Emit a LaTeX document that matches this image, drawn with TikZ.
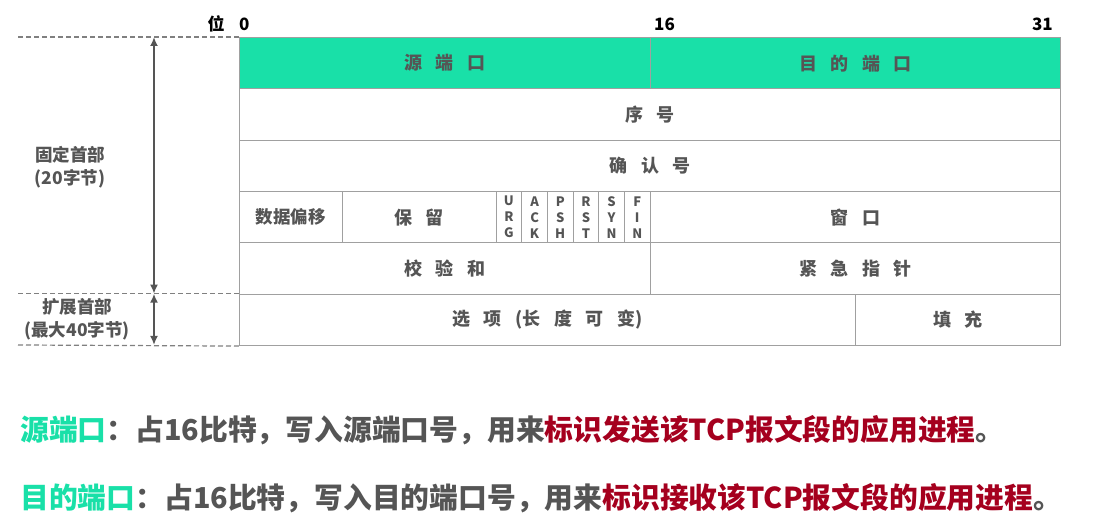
\documentclass[tikz,border=0pt]{standalone}
\usepackage{fontspec}
\setmainfont{Noto Sans CJK SC}
\usetikzlibrary{arrows.meta}
\definecolor{tgreen}{HTML}{19E0A8}
\definecolor{tgray}{HTML}{555555}
\definecolor{tline}{HTML}{A0A0A0}
\definecolor{tred}{HTML}{A5001E}
\definecolor{tdash}{HTML}{808080}
\newcommand{\gp}{\hspace{0.75em}}
\tikzset{
  cell/.style={draw=tline, line width=1.1pt, anchor=north west, inner sep=0pt,
    minimum height=51.33pt, text=tgray, font=\fontsize{18}{20}\selectfont\bfseries},
  flag/.style={cell, font=\fontsize{13}{16}\selectfont\bfseries, align=center},
  hdr/.style={font=\fontsize{17}{19}\selectfont\bfseries, text=black, inner sep=0pt},
  side/.style={font=\fontsize{17.5}{23}\selectfont\bfseries, text=tgray, align=center, inner sep=0pt},
  dashln/.style={draw=tdash, line width=1.2pt, dash pattern=on 5pt off 3pt},
  sizearrow/.style={draw=tgray, line width=2.3pt, {Latex[length=9pt,width=8pt]}-{Latex[length=9pt,width=8pt]}},
  desc/.style={anchor=west, inner sep=0pt, font=\fontsize{28.8}{30}\selectfont\bfseries, text=tgray}
}
\begin{document}
\begin{tikzpicture}[x=1pt,y=-1pt]
\useasboundingbox (0,0) rectangle (1104,529);
\pgfmathsetmacro{\bw}{821/32}
\pgfmathsetmacro{\rh}{51.33}
% header
\node[hdr] (wei) at (216,24) {位};
\node[hdr, anchor=west] (b0) at (239,24) {0};
\node[hdr, anchor=west] (b16) at (654,24) {16};
\node[hdr, anchor=east] (b31) at (1053,24) {31};
% row 1
\node[cell, fill=tgreen, minimum width=16*\bw] (src) at (239,37) {源\gp 端\gp 口};
\node[cell, fill=tgreen, minimum width=16*\bw] (dst) at (239+16*\bw,37) {目\gp 的\gp 端\gp 口};
% row 2
\node[cell, minimum width=32*\bw] (seq) at (239,37+\rh) {序\gp 号};
% row 3
\node[cell, minimum width=32*\bw] (ack) at (239,37+2*\rh) {确\gp 认\gp 号};
% row 4
\node[cell, minimum width=4*\bw, font=\fontsize{17.5}{19}\selectfont\bfseries] (off) at (239,37+3*\rh) {数据偏移};
\node[cell, minimum width=6*\bw] (res) at (239+4*\bw,37+3*\rh) {保\gp 留};
\node[flag, minimum width=\bw] (urg) at (239+10*\bw,37+3*\rh) {U\\R\\G};
\node[flag, minimum width=\bw] (ackf) at (239+11*\bw,37+3*\rh) {A\\C\\K};
\node[flag, minimum width=\bw] (psh) at (239+12*\bw,37+3*\rh) {P\\S\\H};
\node[flag, minimum width=\bw] (rst) at (239+13*\bw,37+3*\rh) {R\\S\\T};
\node[flag, minimum width=\bw] (syn) at (239+14*\bw,37+3*\rh) {S\\Y\\N};
\node[flag, minimum width=\bw] (fin) at (239+15*\bw,37+3*\rh) {F\\I\\N};
\node[cell, minimum width=16*\bw] (win) at (239+16*\bw,37+3*\rh) {窗\gp 口};
% row 5
\node[cell, minimum width=16*\bw] (chk) at (239,37+4*\rh) {校\gp 验\gp 和};
\node[cell, minimum width=16*\bw] (urp) at (239+16*\bw,37+4*\rh) {紧\gp 急\gp 指\gp 针};
% row 6
\node[cell, minimum width=24*\bw] (opt) at (239,37+5*\rh) {选\gp 项\gp (长\gp 度\gp 可\gp 变)};
\node[cell, minimum width=8*\bw] (pad) at (239+24*\bw,37+5*\rh) {填\gp 充};
% side guides
\coordinate (d1a) at (18,37);
\coordinate (d2a) at (18,37+5*\rh);
\coordinate (d3a) at (18,37+6*\rh);
\draw[dashln] (d1a) -- (src.north west);
\draw[dashln] (d2a) -- (opt.north west);
\draw[dashln] (d3a) -- (opt.south west);
\coordinate (a1) at (154,37);
\coordinate (a2) at (154,37+5*\rh);
\coordinate (a3) at (154,37+6*\rh);
\draw[sizearrow] (a1) -- (a2);
\draw[sizearrow] (a2) -- (a3);
\node[side] (fixed) at (70,167) {固定首部\\(20字节)};
\node[side] (ext) at (77,319) {扩展首部\\(最大40字节)};
% description
\node[desc] (l1) at (20,430) {\textcolor{tgreen}{源端口}：占16比特，写入源端口号，用来\textcolor{tred}{标识发送该TCP报文段的应用进程}。};
\node[desc] (l2) at (20,498) {\textcolor{tgreen}{目的端口}：占16比特，写入目的端口号，用来\textcolor{tred}{标识接收该TCP报文段的应用进程}。};
\end{tikzpicture}
\end{document}
